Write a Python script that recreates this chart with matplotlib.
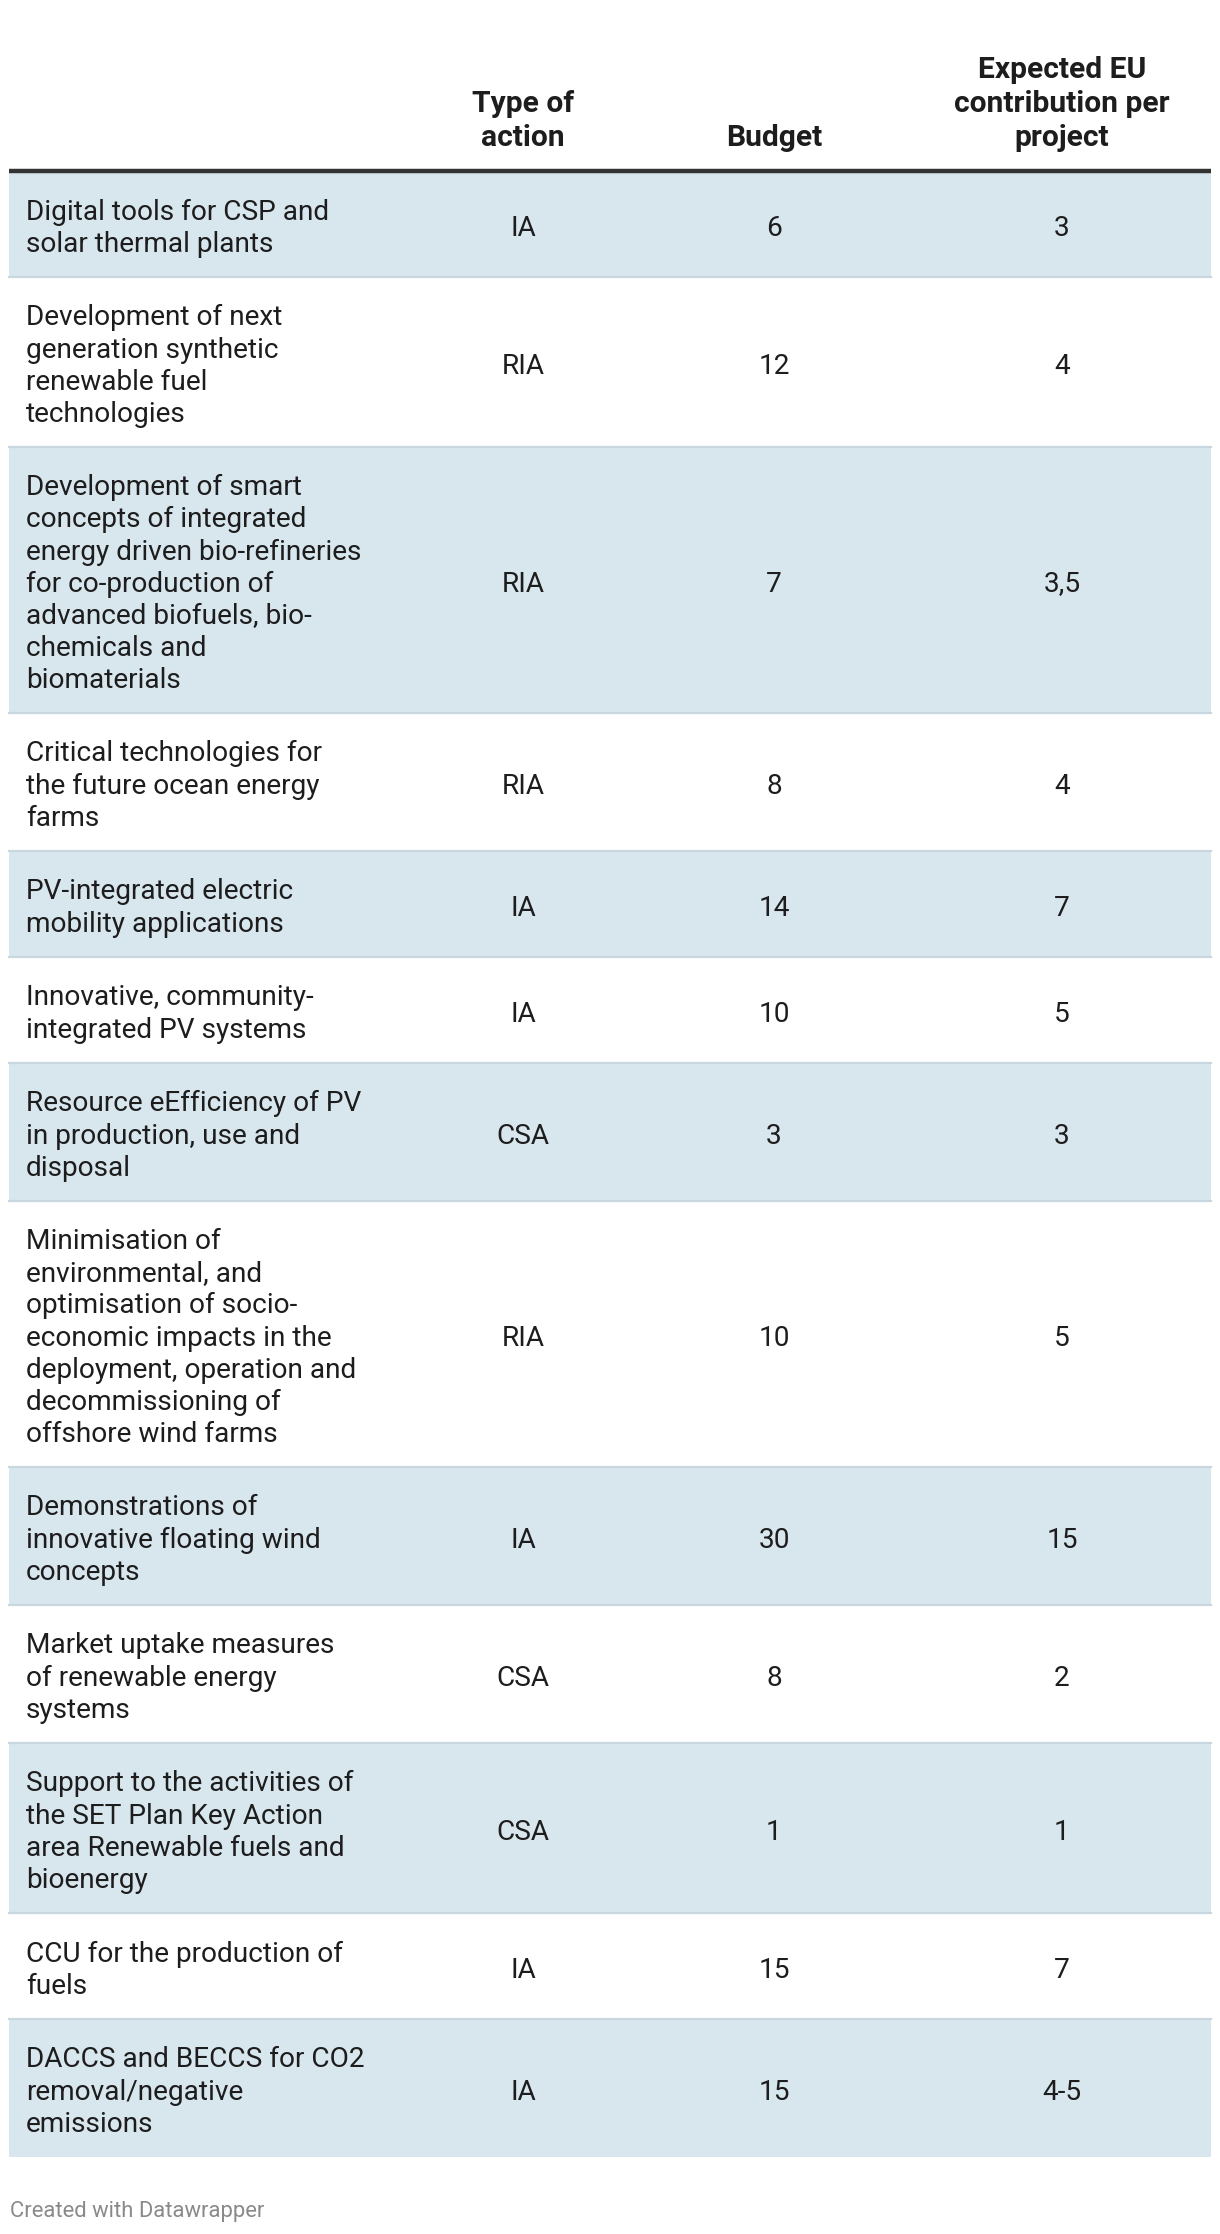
import matplotlib.pyplot as plt
from matplotlib.patches import Rectangle

plt.rcParams['font.family'] = ['Roboto', 'DejaVu Sans']

# table contents
topics = [
    "Digital tools for CSP and\nsolar thermal plants",
    "Development of next\ngeneration synthetic\nrenewable fuel\ntechnologies",
    "Development of smart\nconcepts of integrated\nenergy driven bio-refineries\nfor co-production of\nadvanced biofuels, bio-\nchemicals and\nbiomaterials",
    "Critical technologies for\nthe future ocean energy\nfarms",
    "PV-integrated electric\nmobility applications",
    "Innovative, community-\nintegrated PV systems",
    "Resource eEfficiency of PV\nin production, use and\ndisposal",
    "Minimisation of\nenvironmental, and\noptimisation of socio-\neconomic impacts in the\ndeployment, operation and\ndecommissioning of\noffshore wind farms",
    "Demonstrations of\ninnovative floating wind\nconcepts",
    "Market uptake measures\nof renewable energy\nsystems",
    "Support to the activities of\nthe SET Plan Key Action\narea Renewable fuels and\nbioenergy",
    "CCU for the production of\nfuels",
    "DACCS and BECCS for CO2\nremoval/negative\nemissions",
]
action_type = ["IA", "RIA", "RIA", "RIA", "IA", "IA", "CSA", "RIA", "IA", "CSA", "CSA", "IA", "IA"]
budget = ["6", "12", "7", "8", "14", "10", "3", "10", "30", "8", "1", "15", "15"]
eu_contribution = ["3", "4", "3,5", "4", "7", "5", "3", "5", "15", "2", "1", "7", "4-5"]

headers = ["Type of\naction", "Budget", "Expected EU\ncontribution per\nproject"]

W, H = 1220, 2234
fig = plt.figure(figsize=(W / 100, H / 100), dpi=100)
ax = fig.add_axes([0, 0, 1, 1])
ax.set_xlim(0, W)
ax.set_ylim(H, 0)
ax.axis('off')

px = 0.72  # px -> pt at dpi 100
body_fs = 28 * px
head_fs = 30 * px
text_col = '#1d1d1d'
blue = '#d8e6ee'
sep = '#c9d8e0'

left, right = 9, 1211
col_x = [523, 774, 1062]
line_h = 32
pad = 42

# header
for x, h in zip(col_x, headers):
    ax.text(x, 152, h, ha='center', va='bottom', fontsize=head_fs, fontweight='bold',
            color=text_col, linespacing=1.28)

y = 171
ax.plot([left, right], [y, y], color='#333333', lw=3.2, solid_capstyle='butt', zorder=3)

for i, name in enumerate(topics):
    n = name.count('\n') + 1
    hgt = n * line_h + pad
    if i % 2 == 0:
        ax.add_patch(Rectangle((left, y), right - left, hgt, facecolor=blue, edgecolor='none'))
    if i > 0:
        ax.plot([left, right], [y, y], color=sep, lw=1.6, zorder=2)
    cy = y + hgt / 2 + 4
    ax.text(26, cy, name, ha='left', va='center', fontsize=body_fs, color=text_col,
            linespacing=1.24)
    for x, v in zip(col_x, [action_type[i], budget[i], eu_contribution[i]]):
        ax.text(x, cy, v, ha='center', va='center', fontsize=body_fs, color=text_col)
    y += hgt

ax.text(10, 2212, "Created with Datawrapper", ha='left', va='center', fontsize=22 * px,
        color='#8a8a8a')

fig.savefig('out.png', dpi=100)
